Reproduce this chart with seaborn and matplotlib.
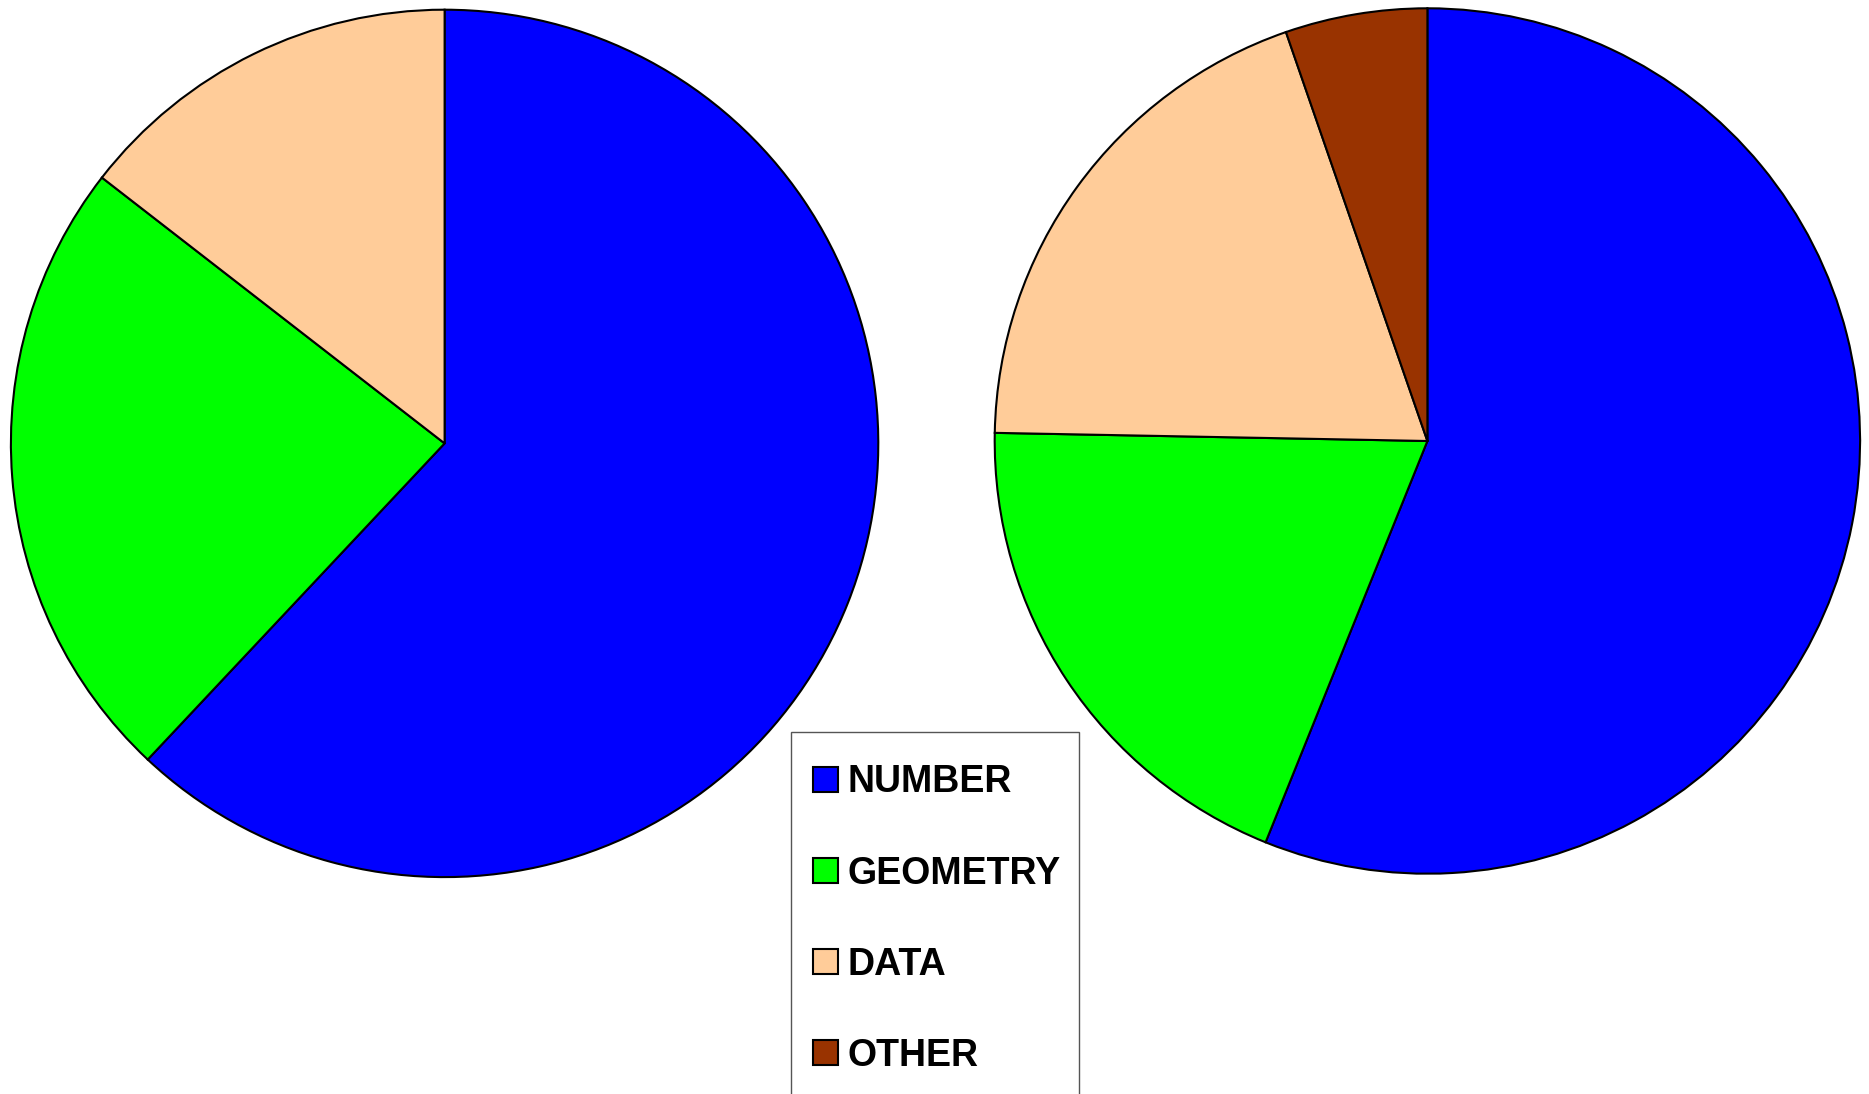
import matplotlib
matplotlib.use("Agg")
import matplotlib.pyplot as plt
import seaborn as sns
from matplotlib.patches import Patch, Rectangle

sns.set_theme(style="white")
plt.rcParams['font.family'] = ['Liberation Sans', 'DejaVu Sans']
plt.rcParams['text.color'] = 'black'

categories = ["NUMBER", "GEOMETRY", "DATA", "OTHER"]
colors = ["#0000FF", "#00FF00", "#FFCC99", "#993300"]
left_values = [62.0, 23.5, 14.5]
right_values = [56.1, 19.2, 19.4, 5.3]

W, H = 1869, 1094
fig = plt.figure(figsize=(W / 100, H / 100), dpi=100)
fig.patch.set_facecolor("white")

def add_pie(cx, cy, r, values):
    ax = fig.add_axes([(cx - r) / W, (H - cy - r) / H, 2 * r / W, 2 * r / H])
    ax.pie(values, colors=colors[:len(values)], startangle=90, counterclock=False,
           radius=1.0, wedgeprops=dict(edgecolor="black", linewidth=1.5))
    ax.set_xlim(-1.003, 1.003)
    ax.set_ylim(-1.003, 1.003)
    ax.set_aspect("equal")
    ax.axis("off")
    return ax

add_pie(444.6, 443.4, 435, left_values)
add_pie(1427.4, 441.0, 434, right_values)

# legend frame (extends beyond the bottom of the figure)
box_left, box_top, box_right = 791, 731.7, 1079
frame = Rectangle((box_left / W, -0.05), (box_right - box_left) / W,
                  (H - box_top) / H + 0.05, transform=fig.transFigure,
                  facecolor="white", edgecolor="#555555", linewidth=1.0,
                  zorder=5)
fig.add_artist(frame)

handles = [Patch(facecolor=c, edgecolor="black", linewidth=1.5) for c in colors]
leg = fig.legend(handles, categories, loc="upper left",
                 bbox_to_anchor=(813 / W, 1 - 764.5 / H),
                 bbox_transform=fig.transFigure,
                 prop=dict(family="Liberation Sans", weight="bold", size=27),
                 labelcolor="black",
                 frameon=False,
                 handlelength=0.66, handleheight=0.66, handletextpad=0.26,
                 labelspacing=1.47, borderpad=0, borderaxespad=0)
leg.set_zorder(6)

fig.savefig("out.png", dpi=100, facecolor="white")
